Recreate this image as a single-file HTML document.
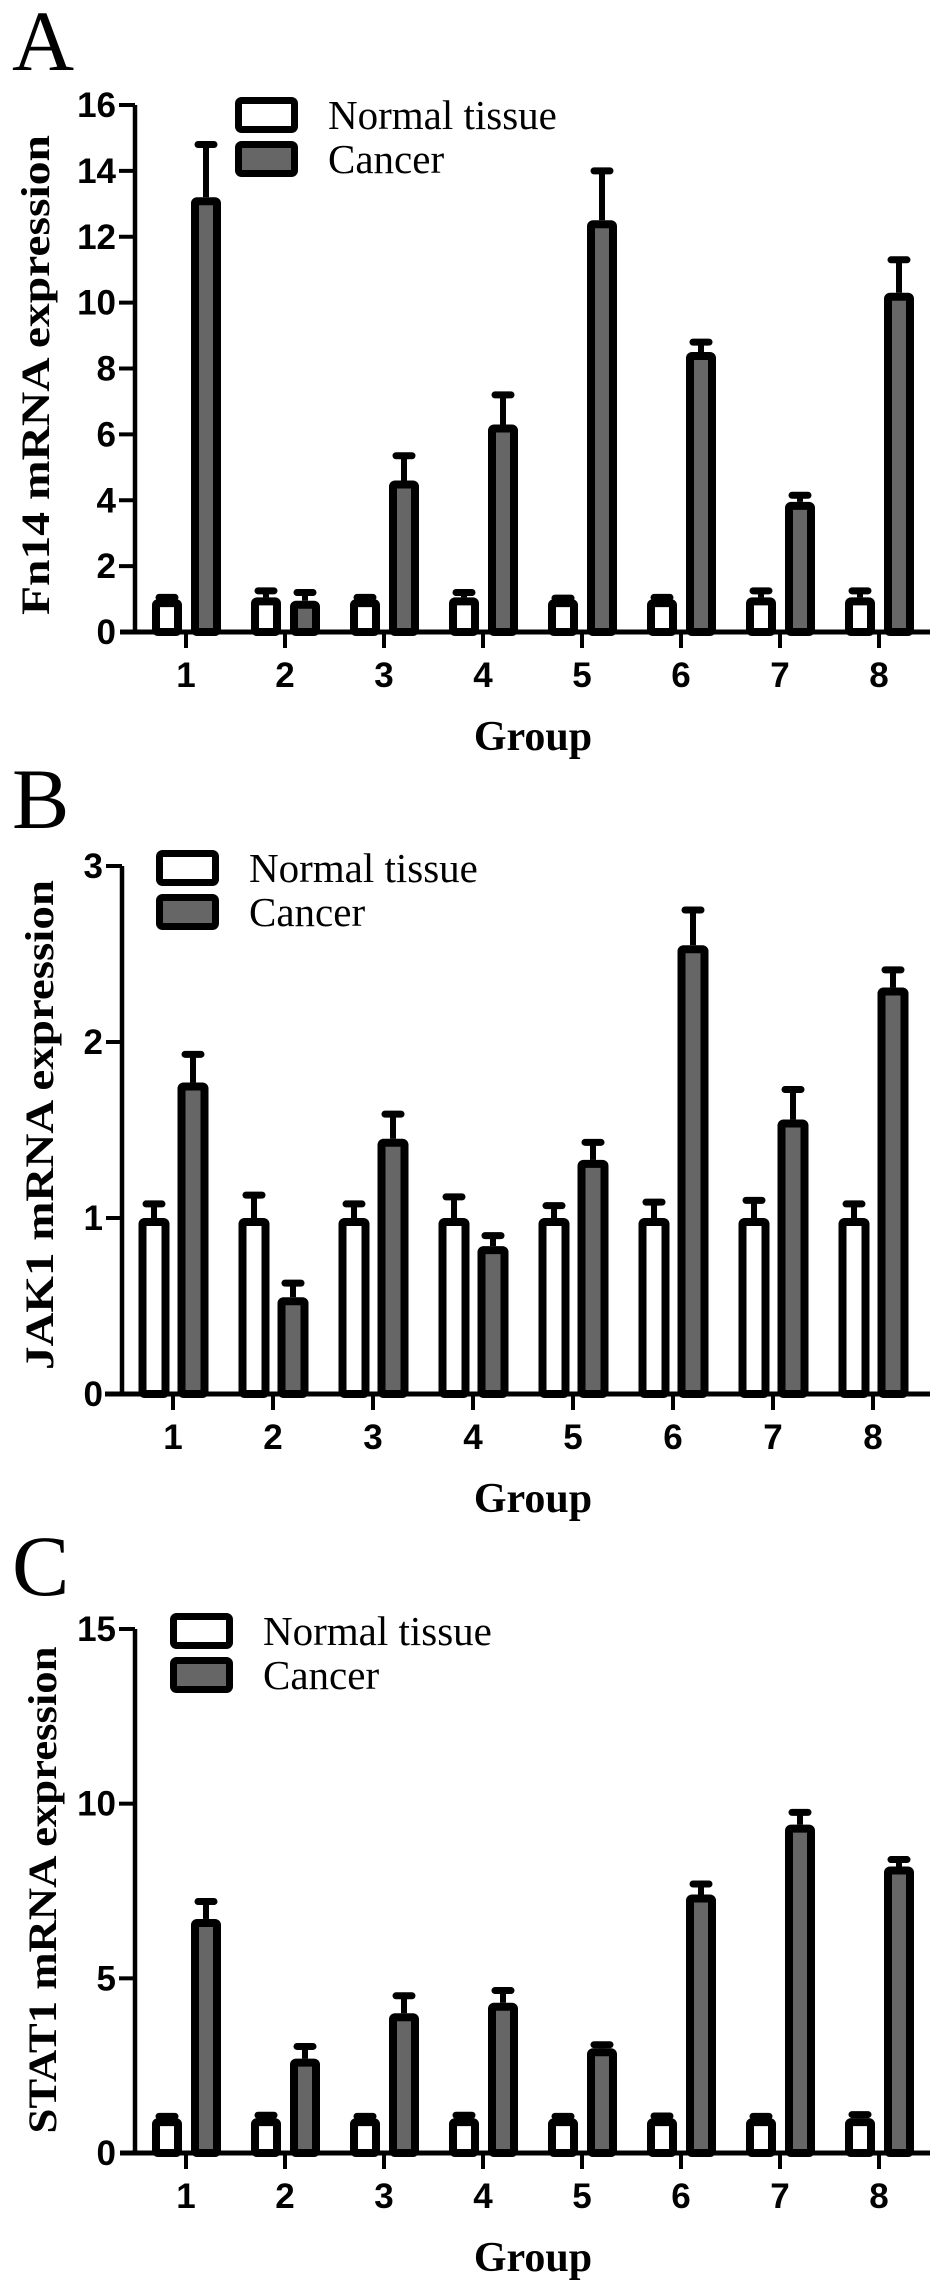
<!DOCTYPE html>
<html><head><meta charset="utf-8"><style>
html,body{margin:0;padding:0;background:#fff;}
svg{display:block;}
</style></head><body>
<svg id="fig" width="945" height="2290" viewBox="0 0 945 2290" xmlns="http://www.w3.org/2000/svg"></svg>
<script>
const groups = ["1","2","3","4","5","6","7","8"];
// Panel A: Fn14
const aNormal = [1.0,1.05,1.0,1.05,1.0,1.0,1.05,1.05];
const aNormalErr = [0.05,0.2,0.05,0.15,0.03,0.05,0.2,0.2];
const aCancer = [13.2,0.95,4.6,6.3,12.5,8.5,3.95,10.3];
const aCancerErr = [1.6,0.25,0.75,0.9,1.5,0.3,0.2,1.0];
const aTicks = [0,2,4,6,8,10,12,14,16];
// Panel B: JAK1
const bNormal = [1,1,1,1,1,1,1,1];
const bNormalErr = [0.08,0.13,0.08,0.12,0.07,0.09,0.1,0.08];
const bCancer = [1.77,0.55,1.45,0.84,1.33,2.55,1.56,2.31];
const bCancerErr = [0.16,0.08,0.14,0.06,0.1,0.2,0.17,0.1];
const bTicks = [0,1,2,3];
// Panel C: STAT1
const cNormal = [1,1,1,1,1,1,1,1];
const cNormalErr = [0.05,0.08,0.05,0.08,0.05,0.06,0.05,0.1];
const cCancer = [6.7,2.7,4.0,4.3,3.0,7.4,9.4,8.2];
const cCancerErr = [0.5,0.35,0.5,0.35,0.1,0.3,0.35,0.2];
const cTicks = [0,5,10,15];

const NS="http://www.w3.org/2000/svg";
const svg=document.getElementById('fig');
function mk(tag,attrs,parent){const e=document.createElementNS(NS,tag);for(const k in attrs)e.setAttribute(k,attrs[k]);(parent||svg).appendChild(e);return e;}

function panel(cfg){
  const g=mk('g',{});
  
  
  const yScale=v=>cfg.y0-(v/cfg.ymax)*(cfg.y0-cfg.ytop);
  const xScale=i=>cfg.x1+i*cfg.dx;
  const L=mk('text',{x:12,y:cfg.letterY,'font-family':'Liberation Serif, serif','font-size':86},g);
  L.textContent=cfg.letter;
  
  
  const ya=mk('line',{x1:cfg.ax,y1:cfg.ytop,x2:cfg.ax,y2:cfg.y0,stroke:'#000','stroke-width':4.5},g);
  
  
  const xa=mk('line',{x1:cfg.xStart,y1:cfg.y0,x2:930,y2:cfg.y0,stroke:'#000','stroke-width':5},g);
  
  
  cfg.ticks.forEach(t=>{
    const y=yScale(t);
    if(t>0) mk('line',{x1:cfg.ax-16,y1:y,x2:cfg.ax,y2:y,stroke:'#000','stroke-width':4},g);
    const tx=mk('text',{x:cfg.ax-19,y:y+12,'text-anchor':'end','font-family':'Liberation Sans, sans-serif','font-weight':'bold','font-size':35},g);
    tx.textContent=t;
    
    
  });
  groups.forEach((gname,i)=>{
    const cx=xScale(i);
    mk('line',{x1:cx,y1:cfg.y0,x2:cx,y2:cfg.y0+16,stroke:'#000','stroke-width':4},g);
    const tl=mk('text',{x:cx,y:cfg.y0+55,'text-anchor':'middle','font-family':'Liberation Sans, sans-serif','font-weight':'bold','font-size':35},g);
    tl.textContent=gname;
    
    
    [[cfg.normal,cfg.normalErr,-19,'#fff','normal'],[cfg.cancer,cfg.cancerErr,20,'#666','cancer']].forEach(s=>{
      const v=s[0][i],e=s[1][i],bx=cx+s[2],w=cfg.bw;
      const top=yScale(v),et=yScale(v+e);
      const el=mk('line',{x1:bx,y1:top,x2:bx,y2:et,stroke:'#000','stroke-width':6},g);
      
      
      const cap=mk('line',{x1:bx-8,y1:et,x2:bx+8,y2:et,stroke:'#000','stroke-width':7,'stroke-linecap':'round'},g);
      
      
      const r=mk('rect',{x:bx-w/2+4,y:top+4,width:w-8,height:Math.max(0,cfg.y0-top-4),fill:s[3],stroke:'#000','stroke-width':8,rx:2},g);
      
      
    });
  });
  [['Normal tissue','#fff',0,'normal'],['Cancer','#666',1,'cancer']].forEach(l=>{
    const ly=cfg.legY+l[2]*44;
    const lb=mk('rect',{x:cfg.legX+3.5,y:ly+3.5,width:56,height:29,fill:l[1],stroke:'#000','stroke-width':7,rx:3},g);
    
    
    const lt=mk('text',{x:cfg.legX+93,y:ly+32,'font-family':'Liberation Serif, serif','font-size':41},g);
    lt.textContent=l[0];
    
    
  });
  const yt=mk('text',{x:0,y:0,'text-anchor':'middle','font-family':'Liberation Serif, serif','font-weight':'bold','font-size':40,transform:`translate(${cfg.ytX},${cfg.ytY}) rotate(-90)`,textLength:cfg.ytLen,lengthAdjust:'spacingAndGlyphs'},g);
  yt.textContent=cfg.ytitle;
  
  
  const xt=mk('text',{x:533,y:cfg.y0+118,'text-anchor':'middle','font-family':'Liberation Serif, serif','font-weight':'bold','font-size':42},g);
  xt.textContent='Group';
  
  
}

panel({id:'fn14',letter:'A',letterY:70,ax:135,xStart:120,y0:632,ytop:105,ymax:16,ticks:aTicks,x1:186,dx:99,bw:30,
  normal:aNormal,normalErr:aNormalErr,cancer:aCancer,cancerErr:aCancerErr,legX:235,legY:97,ytX:49,ytY:375,ytLen:480,ytitle:'Fn14 mRNA expression'});
panel({id:'jak1',letter:'B',letterY:828,ax:122,xStart:105,y0:1394,ytop:866,ymax:3,ticks:bTicks,x1:173,dx:100,bw:31,
  normal:bNormal,normalErr:bNormalErr,cancer:bCancer,cancerErr:bCancerErr,legX:156,legY:850,ytX:53,ytY:1125,ytLen:490,ytitle:'JAK1 mRNA expression'});
panel({id:'stat1',letter:'C',letterY:1595,ax:135,xStart:120,y0:2153,ytop:1629,ymax:15,ticks:cTicks,x1:186,dx:99,bw:30,
  normal:cNormal,normalErr:cNormalErr,cancer:cCancer,cancerErr:cCancerErr,legX:170,legY:1613,ytX:56,ytY:1890,ytLen:487,ytitle:'STAT1 mRNA expression'});
</script>
</body></html>
